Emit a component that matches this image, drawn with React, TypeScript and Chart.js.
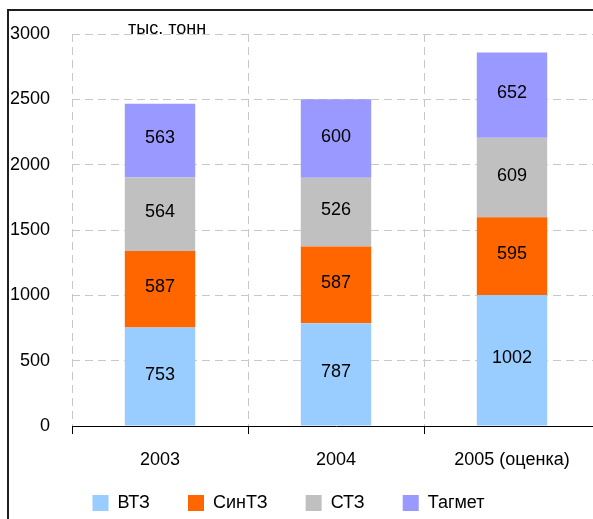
import { useEffect, useRef } from "react";
import { Chart, registerables } from "chart.js";

Chart.register(...registerables);

// ---- data ----
const categories = ["2003", "2004", "2005 (оценка)"];
const seriesNames = ["ВТЗ", "СинТЗ", "СТЗ", "Тагмет"];
const vtzValues = [753, 787, 1002];
const sintzValues = [587, 587, 595];
const stzValues = [564, 526, 609];
const tagmetValues = [563, 600, 652];
const seriesColors = ["#99CCFF", "#FF6600", "#C0C0C0", "#9999FF"];
const unitLabel = "тыс. тонн";
const yMin = 0;
const yMax = 3000;
const yStep = 500;

const FONT = "'Liberation Sans', Arial, sans-serif";
const FS = 18;

const valueLabels = {
  id: "valueLabels",
  afterDatasetsDraw(chart: any) {
    const ctx = chart.ctx;
    ctx.save();
    ctx.font = `${FS}px ${FONT}`;
    ctx.fillStyle = "#000";
    ctx.textAlign = "center";
    ctx.textBaseline = "middle";
    chart.data.datasets.forEach((ds: any, i: number) => {
      const meta = chart.getDatasetMeta(i);
      meta.data.forEach((el: any, j: number) => {
        const { x, y, base } = el.getProps(["x", "y", "base"], true);
        ctx.fillText(String(ds.data[j]), x, (y + base) / 2 - 2);
      });
    });
    ctx.restore();
  },
};

const unitTitle = {
  id: "unitTitle",
  afterDraw(chart: any) {
    const ctx = chart.ctx;
    const area = chart.chartArea;
    ctx.save();
    ctx.font = `${FS}px ${FONT}`;
    ctx.fillStyle = "#000";
    ctx.textAlign = "left";
    ctx.textBaseline = "alphabetic";
    ctx.fillText(unitLabel, area.left + 56, area.top);
    ctx.restore();
  },
};

// keep the category labels from being clipped by the shortened x-axis box
const labelRoom = {
  id: "labelRoom",
  afterLayout(chart: any) {
    const x = chart.scales.x;
    x.bottom = x.top + 70;
  },
};

export default function App() {
  const ref = useRef<HTMLCanvasElement | null>(null);

  useEffect(() => {
    if (!ref.current) return;
    const seriesValues = [vtzValues, sintzValues, stzValues, tagmetValues];
    const chart = new Chart(ref.current, {
      type: "bar",
      data: {
        labels: categories,
        datasets: seriesNames.map((name, i) => ({
          label: name,
          data: seriesValues[i],
          backgroundColor: seriesColors[i],
          borderWidth: 0,
          barPercentage: 0.4,
          categoryPercentage: 1.0,
        })),
      },
      options: {
        responsive: false,
        maintainAspectRatio: false,
        devicePixelRatio: 1,
        animation: false,
        events: [],
        layout: { padding: { left: 17, right: 0, top: 34, bottom: 0 } },
        plugins: {
          tooltip: { enabled: false },
          legend: {
            position: "bottom",
            labels: {
              boxWidth: 16,
              boxHeight: 16,
              padding: 38,
              color: "#000",
              font: { family: FONT, size: FS },
            },
          },
        },
        scales: {
          x: {
            stacked: true,
            offset: true,
            grid: {
              offset: true,
              color: "#c8c8c8",
              lineWidth: 1,
              tickColor: "#000",
              tickLength: 8,
              tickBorderDash: [],
            },
            border: { display: true, color: "#000", width: 1, dash: [8, 5] },
            ticks: {
              color: "#000",
              padding: 15,
              maxRotation: 0,
              autoSkip: false,
              font: { family: FONT, size: FS },
            },
            afterFit(scale: any) {
              scale.height = 30;
            },
          },
          y: {
            stacked: true,
            min: yMin,
            max: yMax,
            grid: {
              drawTicks: false,
              lineWidth: 1,
              color: (c: any) => (c.tick && c.tick.value === 0 ? "rgba(0,0,0,0)" : "#c8c8c8"),
            },
            border: { display: false, dash: [8, 5] },
            ticks: {
              stepSize: yStep,
              color: "#000",
              padding: 22,
              font: { family: FONT, size: FS },
              callback: (v: any) => String(v),
            },
            afterFit(scale: any) {
              scale.width = 95;
            },
          },
        },
      },
      plugins: [valueLabels, unitTitle, labelRoom],
    } as any);
    return () => chart.destroy();
  }, []);

  return (
    <div
      style={{
        position: "fixed",
        left: 0,
        top: 0,
        width: 593,
        height: 519,
        overflow: "hidden",
        background: "#fff",
      }}
    >
      <div style={{ position: "absolute", left: -40, top: 0, width: 640, height: 522 }}>
        <canvas ref={ref} width={640} height={522} style={{ display: "block", width: 640, height: 522 }} />
      </div>
      <div
        style={{
          position: "absolute",
          left: 7,
          top: 9,
          width: 800,
          height: 800,
          borderTop: "2px solid #1e1e1e",
          borderLeft: "2px solid #1e1e1e",
          pointerEvents: "none",
        }}
      />
    </div>
  );
}
